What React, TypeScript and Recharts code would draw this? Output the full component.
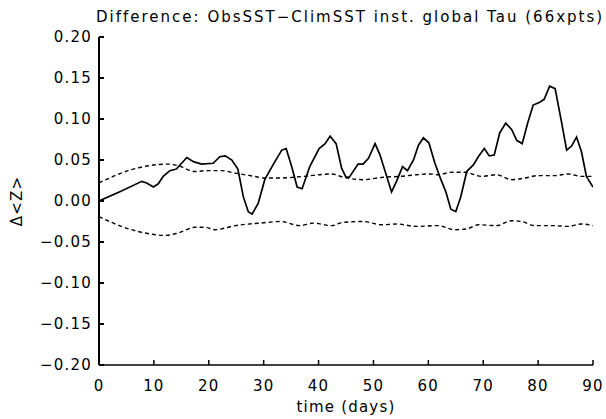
import React from "react";
import { LineChart, Line, XAxis, YAxis } from "recharts";

// solid curve: ObsSST - ClimSST difference
const diffDays = [
  0, 4, 7.8, 8.7, 9.9, 10.8, 11.7, 12.9, 14.1, 16, 17.2, 18.7, 20.8, 22, 23, 24.2, 25.3, 26.3, 27.2, 27.9,
  29, 30.2, 31.7, 33.3, 34.1, 35.1, 36.1, 37, 38.4, 40.1, 41.2, 42.1, 43.2, 44.2, 45, 45.6, 47.2, 48.1, 49.1,
  50.3, 51.2, 53.3, 54.2, 55.3, 56.2, 57.3, 58.2, 59.1, 60.1, 61.2, 62.3, 63.2, 64.1, 65, 65.9, 67, 68.2,
  69.1, 70.2, 71.1, 72, 73, 74.1, 75.2, 76.1, 77.1, 78.1, 79.1, 80.2, 81.1, 82.1, 83.1, 84.3, 85.2, 86.1,
  87, 87.9, 88.8, 90,
];
const diffVals = [
  0.0, 0.012, 0.024, 0.022, 0.017, 0.021, 0.03, 0.037, 0.039, 0.053, 0.048, 0.045, 0.046, 0.054, 0.055, 0.05,
  0.039, 0.005, -0.013, -0.016, -0.003, 0.026, 0.044, 0.062, 0.064, 0.042, 0.017, 0.015, 0.042, 0.064, 0.07,
  0.079, 0.07, 0.04, 0.029, 0.029, 0.045, 0.045, 0.052, 0.07, 0.056, 0.011, 0.024, 0.042, 0.037, 0.05,
  0.068, 0.077, 0.071, 0.046, 0.026, 0.011, -0.01, -0.013, 0.005, 0.036, 0.044, 0.054, 0.064, 0.055, 0.056,
  0.083, 0.095, 0.087, 0.074, 0.07, 0.095, 0.117, 0.12, 0.124, 0.14, 0.137, 0.095, 0.062, 0.067, 0.078,
  0.06, 0.03, 0.017,
];

// dotted envelopes
const upperDays = [
  0, 5.3, 9, 12.6, 14.4, 17.5, 19.9, 22.3, 24.8, 28.4, 30.2, 33, 37.2, 42.4, 44.5, 48.1, 51.8, 54.8, 57.9,
  60.3, 61.8, 64.2, 66.7, 69.7, 72.4, 75.2, 77.6, 80, 83.1, 85.5, 87.9, 90,
];
const upperVals = [
  0.022, 0.037, 0.043, 0.045, 0.043, 0.036, 0.037, 0.037, 0.034, 0.03, 0.028, 0.028, 0.03, 0.033, 0.029,
  0.026, 0.029, 0.03, 0.032, 0.033, 0.032, 0.035, 0.035, 0.03, 0.032, 0.026, 0.028, 0.031, 0.031, 0.033,
  0.03, 0.03,
];
const lowerDays = [
  0, 4.1, 8.4, 12, 14.4, 17.5, 19.3, 21.1, 24.8, 29.3, 33, 36.6, 39, 42.4, 44.5, 48.1, 51.5, 54.2, 57.9,
  61.8, 64.8, 67, 69.1, 72.4, 75.2, 77, 79.4, 82.5, 85.5, 87.9, 90,
];
const lowerVals = [
  -0.019, -0.031, -0.039, -0.042, -0.039, -0.032, -0.032, -0.035, -0.03, -0.027, -0.025, -0.03, -0.027,
  -0.03, -0.026, -0.025, -0.029, -0.028, -0.031, -0.03, -0.035, -0.034, -0.029, -0.03, -0.024, -0.025,
  -0.03, -0.03, -0.031, -0.028, -0.03,
];

const xTicks = [0, 10, 20, 30, 40, 50, 60, 70, 80, 90];
const yTicks = [-0.2, -0.15, -0.1, -0.05, 0, 0.05, 0.1, 0.15, 0.2];

const FONT = "'DejaVu Sans', sans-serif";
const tickStyle = { fontFamily: FONT, fontSize: 15, fill: "#000", letterSpacing: 1.2 };

const toPts = (xs: number[], ys: number[]) => xs.map((d, i) => ({ day: d, v: ys[i] }));

export default function App() {
  const diff = toPts(diffDays, diffVals);
  const upper = toPts(upperDays, upperVals);
  const lower = toPts(lowerDays, lowerVals);

  return (
    <div style={{ position: "absolute", left: 0, top: 0, width: 606, height: 419, background: "#fff" }}>
      <div
        style={{
          position: "absolute",
          left: 96,
          width: 500,
          top: 8,
          textAlign: "center",
          fontFamily: FONT,
          fontSize: 15,
          letterSpacing: 2,
          whiteSpace: "nowrap",
        }}
      >
        Difference: ObsSST−ClimSST inst. global Tau (66xpts)
      </div>
      <LineChart width={606} height={419} margin={{ top: 37, right: 13, bottom: 0, left: 0 }}>
        <XAxis
          type="number"
          dataKey="day"
          domain={[0, 90]}
          ticks={xTicks}
          allowDataOverflow
          height={54}
          stroke="#000"
          strokeWidth={1.5}
          tickSize={-5}
          tickMargin={20}
          tick={tickStyle}
          label={{ value: "time (days)", position: "insideBottom", offset: 7, style: { ...tickStyle, textAnchor: "middle" } }}
        />
        <YAxis
          type="number"
          domain={[-0.2, 0.2]}
          ticks={yTicks}
          allowDataOverflow
          width={99}
          stroke="#000"
          strokeWidth={2}
          tickSize={-5}
          tickMargin={12}
          tick={tickStyle}
          tickFormatter={(v: number) => (v < 0 ? "−" + Math.abs(v).toFixed(2) : v.toFixed(2))}
          label={{ value: "Δ<Z>", angle: -90, position: "insideLeft", offset: 17, style: { ...tickStyle, textAnchor: "middle" } }}
        />
        <Line data={upper} dataKey="v" type="monotone" stroke="#000" strokeWidth={1.4} strokeDasharray="4 3" dot={false} isAnimationActive={false} />
        <Line data={lower} dataKey="v" type="monotone" stroke="#000" strokeWidth={1.4} strokeDasharray="4 3" dot={false} isAnimationActive={false} />
        <Line data={diff} dataKey="v" type="linear" stroke="#000" strokeWidth={1.7} dot={false} isAnimationActive={false} />
      </LineChart>
    </div>
  );
}
